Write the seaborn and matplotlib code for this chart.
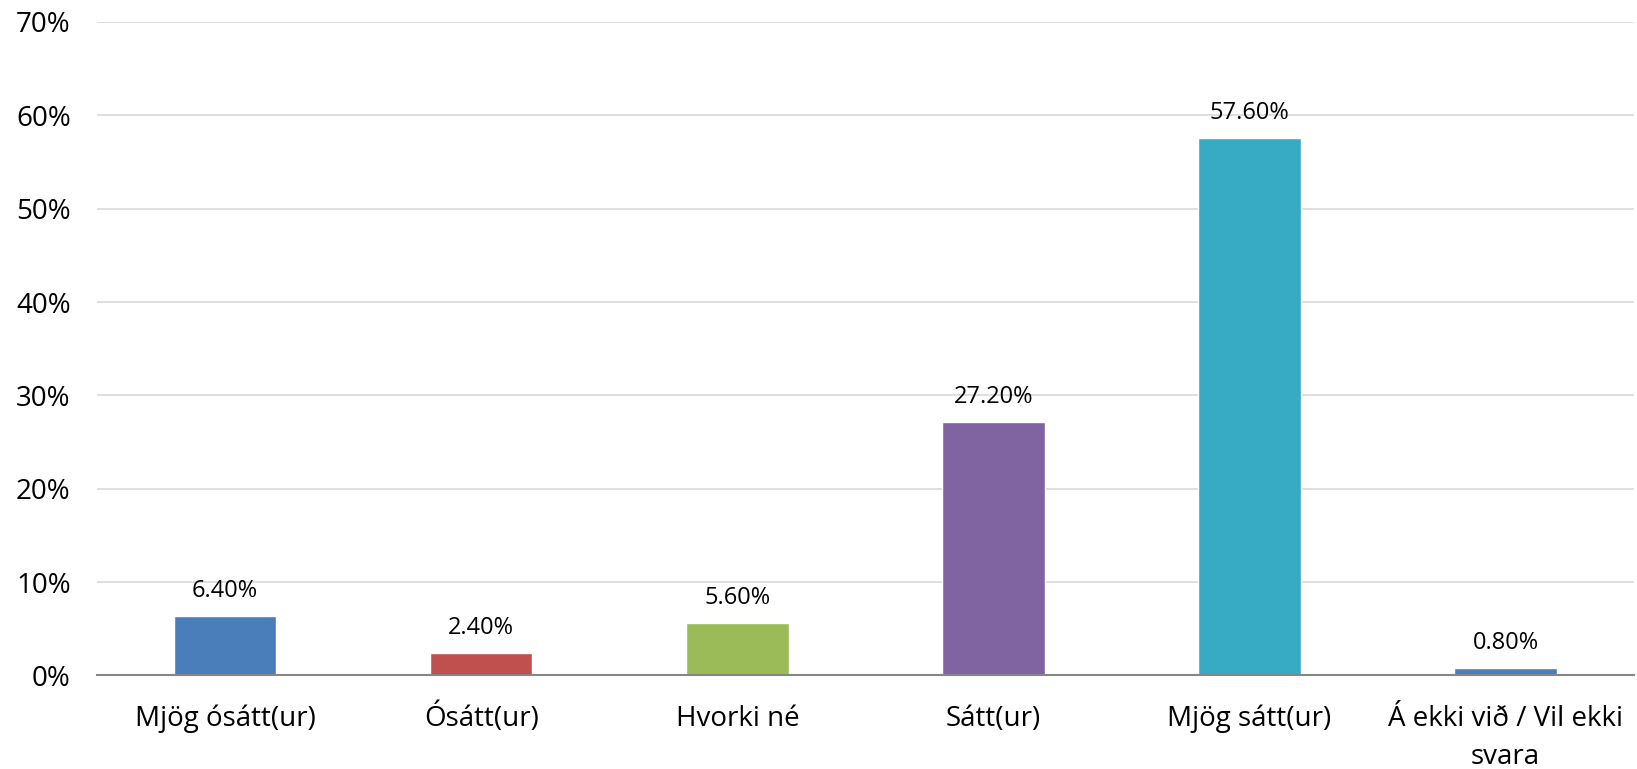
import numpy as np
import pandas as pd
import seaborn as sns
import matplotlib.pyplot as plt
from matplotlib.ticker import PercentFormatter
from matplotlib.transforms import ScaledTranslation

categories = ['Mjög ósátt(ur)', 'Ósátt(ur)', 'Hvorki né', 'Sátt(ur)',
              'Mjög sátt(ur)', 'Á ekki við / Vil ekki\nsvara']
shares = [6.4, 2.4, 5.6, 27.2, 57.6, 0.8]
colors = ['#4A7EBB', '#C0504D', '#9BBB59', '#8064A2', '#37ABC4', '#4A7EBB']

sns.set_theme(style='white')
plt.rcParams['font.family'] = ['Open Sans', 'DejaVu Sans']

df = pd.DataFrame({'cat': categories, 'share': shares})

fig = plt.figure(figsize=(16.37, 7.69), dpi=100)
ax = fig.add_axes([0.0593, 0.1216, 0.9387, 0.8498])

sns.barplot(data=df, x='cat', y='share', hue='cat', palette=colors,
            width=0.4, legend=False, ax=ax, saturation=1)

ax.set_ylim(0, 70)
ax.set_xlim(-0.5, len(categories) - 0.5)
ax.set_yticks(np.arange(0, 71, 10))
ax.yaxis.set_major_formatter(PercentFormatter(decimals=0))
ax.grid(axis='y', color='#D9D9D9', linewidth=1.2)
ax.set_axisbelow(True)
ax.set_xlabel('')
ax.set_ylabel('')

for s in ['top', 'right', 'left']:
    ax.spines[s].set_visible(False)
ax.spines['bottom'].set_color('#868686')
ax.spines['bottom'].set_linewidth(1.5)

ax.tick_params(axis='y', labelsize=20, length=0, pad=19, labelcolor='black')
ax.tick_params(axis='x', labelsize=20, length=0, pad=36.5, labelcolor='black')
# baseline alignment so accented capitals don't push labels down
for lbl in ax.get_xticklabels():
    lbl.set_verticalalignment('baseline')
    lbl.set_linespacing(1.45)
    if '\n' in lbl.get_text():
        # baseline refers to the last line, so move the two-line label down one line
        lbl.set_transform(lbl.get_transform() + ScaledTranslation(0, -27 / 72, fig.dpi_scale_trans))

for i, v in enumerate(shares):
    ax.annotate(f'{v:.2f}%', (i, v), xytext=(0, 13.7), textcoords='offset points',
                ha='center', va='baseline', fontsize=17, color='black')

fig.savefig('out.png', dpi=100)
